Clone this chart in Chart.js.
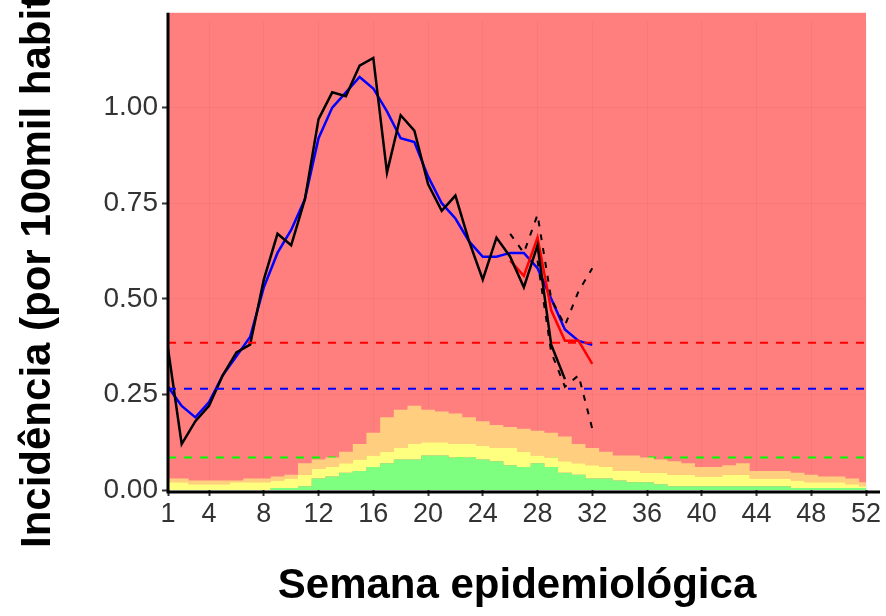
<!DOCTYPE html>
<html>
<head>
<meta charset="utf-8">
<script src="https://cdn.jsdelivr.net/npm/chart.js@4"></script>
<style>
  body { margin: 0; background: #fff; }
  #wrap { width: 886px; height: 616px; }
</style>
</head>
<body>
<div id="wrap"><canvas id="chart"></canvas></div>
<script>
// weeks 1..52
const weeks = Array.from({ length: 52 }, (_, i) => i + 1);
const xTicks = [1, 4, 8, 12, 16, 20, 24, 28, 32, 36, 40, 44, 48, 52];
const yTicks = [0, 0.25, 0.5, 0.75, 1.0];

// historical bands (cumulative tops)
const greenTop = [0,0,0,0,0,0,0,0,0.005,0.005,0.01,0.03,0.035,0.045,0.05,0.06,0.07,0.08,0.08,0.09,0.09,0.085,0.085,0.08,0.075,0.065,0.06,0.07,0.06,0.045,0.04,0.03,0.03,0.025,0.02,0.02,0.015,0.01,0.01,0.01,0.01,0.01,0.01,0.01,0.01,0.01,0.005,0.005,0.005,0.005,0.005,0.005];
const yellowTop = [0.02,0.02,0.015,0.015,0.015,0.02,0.02,0.02,0.025,0.03,0.04,0.055,0.06,0.07,0.08,0.09,0.1,0.11,0.12,0.125,0.125,0.12,0.12,0.115,0.11,0.11,0.1,0.09,0.085,0.075,0.07,0.065,0.06,0.05,0.05,0.045,0.045,0.04,0.04,0.035,0.035,0.04,0.04,0.03,0.03,0.03,0.025,0.02,0.02,0.02,0.015,0.01];
const orangeTop = [0.03,0.03,0.025,0.025,0.025,0.025,0.03,0.03,0.035,0.04,0.07,0.08,0.085,0.1,0.12,0.15,0.19,0.21,0.22,0.21,0.205,0.2,0.19,0.18,0.17,0.165,0.16,0.155,0.15,0.14,0.12,0.11,0.1,0.09,0.09,0.085,0.08,0.075,0.07,0.06,0.06,0.065,0.07,0.05,0.05,0.05,0.045,0.04,0.035,0.035,0.03,0.02];

// observed incidence and smoothed
const observed = [0.37,0.12,0.18,0.22,0.30,0.36,0.38,0.55,0.67,0.64,0.76,0.97,1.04,1.03,1.11,1.13,0.83,0.98,0.94,0.80,0.73,0.77,0.65,0.55,0.66,0.61,0.53,0.64,0.38,0.29];
const smoothed = [0.27,0.22,0.19,0.23,0.30,0.35,0.40,0.53,0.62,0.68,0.76,0.92,1.00,1.04,1.08,1.05,0.99,0.92,0.91,0.82,0.75,0.71,0.65,0.61,0.61,0.62,0.62,0.58,0.50,0.42,0.39,0.38];
const nowcastWeeks = [26, 27, 28, 29, 30, 31, 32];
const nowcast = [0.60, 0.56, 0.66, 0.47, 0.39, 0.39, 0.33];
const upperWeeks = [26, 27, 28, 29, 30, 31, 32];
const upper = [0.67, 0.62, 0.72, 0.50, 0.43, 0.52, 0.58];
const lowerWeeks = [28, 29, 30, 31, 32];
const lower = [0.60, 0.36, 0.27, 0.30, 0.16];

// thresholds
const thrHigh = 0.385;
const thrMid = 0.265;
const thrLow = 0.085;

const yTitle = "Incidência (por 100mil habitantes)";

const pts = (xs, ys) => ys.map((y, i) => ({ x: xs[i], y: y }));
const hline = (y) => [{ x: 1, y: y }, { x: 52, y: y }];

const bgPlugin = {
  id: "bg",
  beforeDraw(chart) {
    const a = chart.chartArea, c = chart.ctx;
    c.save();
    c.fillStyle = "#ff7f7f";
    c.fillRect(a.left, a.top - 8, a.right - a.left, a.bottom - a.top + 8);
    c.restore();
  },
  afterDraw(chart) {
    const a = chart.chartArea, c = chart.ctx;
    c.save();
    c.strokeStyle = "#000";
    c.lineWidth = 3;
    c.beginPath();
    c.moveTo(a.left, a.top - 8);
    c.lineTo(a.left, a.bottom + 2);
    c.lineTo(a.right + 14, a.bottom + 2);
    c.stroke();
    // y title, ggplot style, running off the top
    c.translate(50, 548);
    c.rotate(-Math.PI / 2);
    c.fillStyle = "#000";
    c.font = "bold 42px 'Liberation Sans'";
    c.textAlign = "left";
    c.fillText(yTitle, 0, 0);
    c.restore();
  }
};

new Chart(document.getElementById("chart"), {
  type: "line",
  data: {
    datasets: [
      { data: pts(weeks, greenTop), backgroundColor: "#7fff7f", fill: "origin", borderWidth: 0, pointRadius: 0, stepped: "middle" },
      { data: pts(weeks, yellowTop), backgroundColor: "#ffff7f", fill: "-1", borderWidth: 0, pointRadius: 0, stepped: "middle" },
      { data: pts(weeks, orangeTop), backgroundColor: "#ffcf7f", fill: "-1", borderWidth: 0, pointRadius: 0, stepped: "middle" },
      { data: hline(thrHigh), borderColor: "#ff0000", borderDash: [8, 8], borderWidth: 2, pointRadius: 0 },
      { data: hline(thrMid), borderColor: "#0000ff", borderDash: [8, 8], borderWidth: 2, pointRadius: 0 },
      { data: hline(thrLow), borderColor: "#00ff00", borderDash: [8, 8], borderWidth: 2, pointRadius: 0 },
      { data: pts(upperWeeks, upper), borderColor: "#000", borderDash: [6, 8], borderWidth: 2, pointRadius: 0 },
      { data: pts(lowerWeeks, lower), borderColor: "#000", borderDash: [6, 8], borderWidth: 2, pointRadius: 0 },
      { data: pts(weeks, observed), borderColor: "#000", borderWidth: 2.5, pointRadius: 0 },
      { data: pts(nowcastWeeks, nowcast), borderColor: "#ff0000", borderWidth: 2.5, pointRadius: 0 },
      { data: pts(weeks, smoothed), borderColor: "#0000ff", borderWidth: 2.5, pointRadius: 0 }
    ]
  },
  options: {
    responsive: true,
    maintainAspectRatio: false,
    animation: false,
    layout: { padding: { top: 4, right: 20, left: 0, bottom: 0 } },
    plugins: { legend: { display: false }, tooltip: { enabled: false } },
    scales: {
      x: {
        type: "linear", min: 1, max: 52,
        afterBuildTicks: (s) => { s.ticks = xTicks.map(v => ({ value: v })); },
        afterFit: (s) => { s.height = 126; },
        grid: { color: "rgba(0,0,0,0.04)", drawTicks: true, tickLength: 6, tickColor: "#333", tickWidth: 2 },
        border: { display: false },
        ticks: { color: "#333", font: { family: "Liberation Sans", size: 27 }, maxRotation: 0, padding: 2 },
        title: { display: true, text: "Semana epidemiológica", color: "#000", font: { family: "Liberation Sans", size: 42, weight: "bold" }, padding: { top: 8 } }
      },
      y: {
        min: 0, max: 1.227,
        afterBuildTicks: (s) => { s.ticks = yTicks.map(v => ({ value: v })); },
        afterFit: (s) => { s.width = 168; },
        grid: { color: "rgba(0,0,0,0.04)", tickLength: 6, tickColor: "#333", tickWidth: 2 },
        border: { display: false },
        ticks: { color: "#333", font: { family: "Liberation Sans", size: 28 }, callback: (v) => v.toFixed(2), padding: 4 }
      }
    }
  },
  plugins: [bgPlugin]
});
</script>
</body>
</html>
